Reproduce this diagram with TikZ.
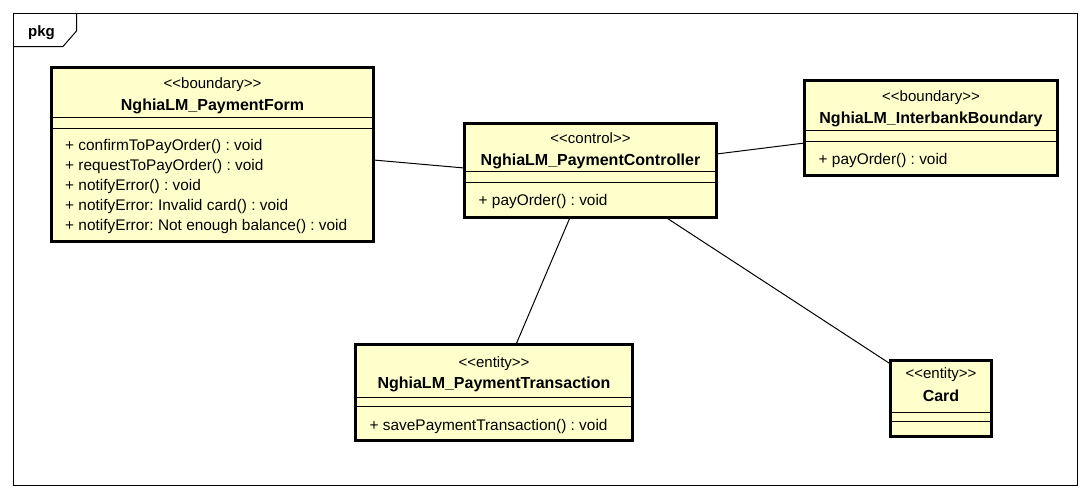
\documentclass[tikz,border=0pt]{standalone}
\usepackage{fontspec}
\setmainfont{Liberation Sans}
\frenchspacing
\definecolor{clsfill}{HTML}{FFFFCC}
\begin{document}
\begin{tikzpicture}[x=1pt,y=-1pt,
  cls/.style={draw=black, line width=3pt, fill=clsfill, inner sep=0pt, outer sep=0pt},
  sep/.style={line width=1pt},
  frm/.style={line width=1pt},
  txt/.style={font=\fontsize{15}{18}\selectfont, anchor=base, inner sep=0pt},
  btxt/.style={font=\fontsize{16}{19}\selectfont\bfseries, anchor=base, inner sep=0pt},
  mtxt/.style={font=\fontsize{15.4}{18}\selectfont, anchor=base west, inner sep=0pt},
  conn/.style={line width=1pt}]
\useasboundingbox[fill=white] (0,0) rectangle (1092,498);
% package frame
\draw[frm] (13.5,13.5) rectangle (1077.5,485.5);
\draw[frm] (13.5,46.5) -- (63,46.5) -- (76.5,31) -- (76.5,13.5);
\node[btxt, font=\fontsize{15}{18}\selectfont\bfseries] (pkg) at (41.5,36) {pkg};
% PaymentForm
\node[cls, minimum width=322pt, minimum height=174pt] (form) at (212.5,154.5) {};
\draw[sep] (form.west |- 0,117.5) -- (form.east |- 0,117.5);
\draw[sep] (form.west |- 0,128.5) -- (form.east |- 0,128.5);
\node[txt] (formst) at (212.5,88) {<{}<boundary>{}>};
\node[btxt] (formnm) at (212.5,110) {NghiaLM\_PaymentForm};
\node[mtxt] (fm1) at (65,150.5) {+ confirmToPayOrder() : void};
\node[mtxt] (fm2) at (65,170.5) {+ requestToPayOrder() : void};
\node[mtxt] (fm3) at (65,190.5) {+ notifyError() : void};
\node[mtxt] (fm4) at (65,210.5) {+ notifyError: Invalid card() : void};
\node[mtxt] (fm5) at (65,230.5) {+ notifyError: Not enough balance() : void};
% Controller
\node[cls, minimum width=252pt, minimum height=94pt] (ctrl) at (590.5,170.5) {};
\draw[sep] (ctrl.west |- 0,171.5) -- (ctrl.east |- 0,171.5);
\draw[sep] (ctrl.west |- 0,182.5) -- (ctrl.east |- 0,182.5);
\node[txt] (ctrlst) at (590.5,143) {<{}<control>{}>};
\node[btxt] (ctrlnm) at (590.5,165) {NghiaLM\_PaymentController};
\node[mtxt] (cm1) at (478.5,205) {+ payOrder() : void};
% Interbank
\node[cls, minimum width=253pt, minimum height=95pt] (inter) at (931,128) {};
\draw[sep] (inter.west |- 0,130.5) -- (inter.east |- 0,130.5);
\draw[sep] (inter.west |- 0,141.5) -- (inter.east |- 0,141.5);
\node[txt] (interst) at (931,101.7) {<{}<boundary>{}>};
\node[btxt] (internm) at (931,123.3) {NghiaLM\_InterbankBoundary};
\node[mtxt] (im1) at (818.5,164) {+ payOrder() : void};
% Transaction
\node[cls, minimum width=277pt, minimum height=96pt] (trans) at (494,392.5) {};
\draw[sep] (trans.west |- 0,397.5) -- (trans.east |- 0,397.5);
\draw[sep] (trans.west |- 0,406.5) -- (trans.east |- 0,406.5);
\node[txt] (transst) at (494,367) {<{}<entity>{}>};
\node[btxt] (transnm) at (494,388) {NghiaLM\_PaymentTransaction};
\node[mtxt] (tm1) at (369.5,430) {+ savePaymentTransaction() : void};
% Card
\node[cls, minimum width=101pt, minimum height=76pt] (card) at (941,398.5) {};
\draw[sep] (card.west |- 0,412.5) -- (card.east |- 0,412.5);
\draw[sep] (card.west |- 0,421.5) -- (card.east |- 0,421.5);
\node[txt] (cardst) at (941,378) {<{}<entity>{}>};
\node[btxt] (cardnm) at (941,401.7) {Card};
% connectors
\draw[conn] (form.east |- 0,160) -- (ctrl.west |- 0,168);
\draw[conn] (ctrl.east |- 0,154) -- (inter.west |- 0,143);
\draw[conn] (ctrl.south -| 570,0) -- (trans.north -| 516,0);
\draw[conn] (ctrl.south -| 666,0) -- (card.west |- 0,364);
\end{tikzpicture}
\end{document}
